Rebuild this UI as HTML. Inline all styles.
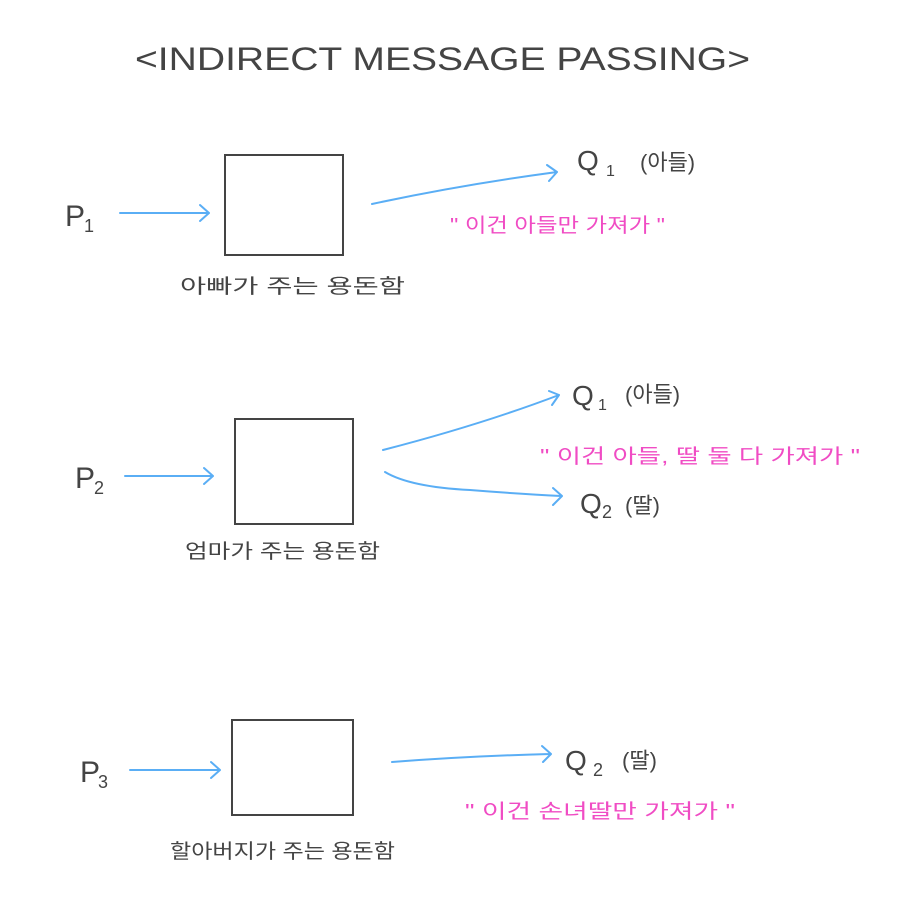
<!DOCTYPE html>
<html><head><meta charset="utf-8"><style>
html,body{margin:0;padding:0;background:#fff;}
svg{display:block}
text{font-family:"Liberation Sans","Noto Sans CJK KR",sans-serif;fill:#444;}
.p{fill:#f04cc4;}
.a{stroke:#5aaef5;stroke-width:2;fill:none;stroke-linecap:round;stroke-linejoin:round}
.b{stroke:#444;stroke-width:2;fill:none}
</style></head><body>
<svg width="899" height="920" viewBox="0 0 899 920">
<text x="135" y="70" font-size="32" textLength="615" lengthAdjust="spacingAndGlyphs">&lt;INDIRECT  MESSAGE  PASSING&gt;</text>

<!-- 1 -->
<text x="65" y="226" font-size="30">P</text><text x="84" y="232" font-size="18">1</text>
<path class="a" d="M120 213 L208 213 M200 205 L209 213 L200 221"/>
<rect class="b" x="225" y="155" width="118" height="100"/>
<text x="180" y="293" font-size="20" textLength="225" lengthAdjust="spacingAndGlyphs">아빠가 주는  용돈함</text>
<path class="a" d="M372 204 Q460 185 557 172 M547 165 L557 172 L549 181"/>
<text x="577" y="170" font-size="28">Q</text><text x="606" y="176" font-size="16">1</text>
<text x="640" y="170" font-size="22">(아들)</text>
<text class="p" x="450" y="232" font-size="20" textLength="215" lengthAdjust="spacingAndGlyphs">" 이건 아들만 가져가 "</text>

<!-- 2 -->
<text x="75" y="488" font-size="30">P</text><text x="94" y="494" font-size="18">2</text>
<path class="a" d="M125 476 L212 476 M204 468 L213 476 L204 484"/>
<rect class="b" x="235" y="419" width="118" height="105"/>
<text x="185" y="558" font-size="20" textLength="195" lengthAdjust="spacingAndGlyphs">엄마가 주는  용돈함</text>
<path class="a" d="M383 450 Q480 425 559 395 M549 391 L559 395 L552 405"/>
<path class="a" d="M385 472 Q410 487 470 490 Q520 494 561 496 M553 488 L562 496 L553 505"/>
<text x="572" y="405" font-size="28">Q</text><text x="598" y="410" font-size="16">1</text>
<text x="625" y="402" font-size="22">(아들)</text>
<text class="p" x="540" y="463" font-size="20" textLength="320" lengthAdjust="spacingAndGlyphs">" 이건 아들, 딸 둘 다 가져가 "</text>
<text x="580" y="513" font-size="28">Q</text><text x="602" y="518" font-size="18">2</text>
<text x="625" y="513" font-size="22">(딸)</text>

<!-- 3 -->
<text x="80" y="782" font-size="30">P</text><text x="98" y="788" font-size="18">3</text>
<path class="a" d="M130 770 L219 770 M211 762 L220 770 L211 778"/>
<rect class="b" x="232" y="720" width="121" height="95"/>
<text x="170" y="858" font-size="20" textLength="225" lengthAdjust="spacingAndGlyphs">할아버지가 주는 용돈함</text>
<path class="a" d="M392 762 Q470 756 550 754 M542 746 L551 754 L543 762"/>
<text x="565" y="770" font-size="28">Q</text><text x="593" y="776" font-size="18">2</text>
<text x="622" y="768" font-size="22">(딸)</text>
<text class="p" x="465" y="818" font-size="20" textLength="270" lengthAdjust="spacingAndGlyphs">" 이건  손녀딸만  가져가 "</text>
</svg>
</body></html>
